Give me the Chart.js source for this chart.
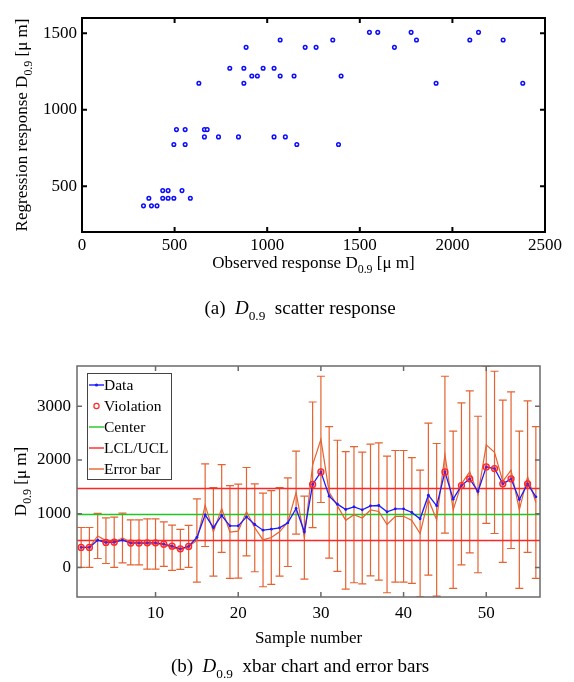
<!DOCTYPE html>
<html>
<head>
<meta charset="utf-8">
<script src="https://cdn.jsdelivr.net/npm/chart.js@4.4.1/dist/chart.umd.min.js"></script>
<style>
  body { margin: 0; background: #fff; width: 574px; height: 682px; position: relative; overflow: hidden; }
  #wrapTop { position: absolute; left: 0; top: 0; width: 574px; height: 330px; }
  #wrapBot { position: absolute; left: 0; top: 330px; width: 574px; height: 352px; }
</style>
</head>
<body>
<div id="wrapTop"><canvas id="scatterChart"></canvas></div>
<div id="wrapBot"><canvas id="xbarChart"></canvas></div>
<script>
// (a) scatter: observed vs regression D0.9
const observed = [332, 361, 375, 405, 436, 436, 465, 465, 496, 496, 510, 540, 557, 557, 585, 631, 661, 661, 676, 737,
  798, 845, 874, 874, 886, 917, 947, 978, 1037, 1037, 1070, 1070, 1098, 1145, 1160, 1205, 1264, 1354, 1385, 1399,
  1552, 1597, 1687, 1777, 1806, 1912, 2094, 2141, 2274, 2380];
const predicted = [371, 421, 371, 371, 471, 421, 471, 421, 421, 772, 870, 471, 870, 772, 421, 1173, 870, 822, 870, 822,
  1271, 822, 1271, 1173, 1408, 1221, 1221, 1271, 1271, 822, 1456, 1221, 822, 1221, 772, 1408, 1408, 1456, 772, 1221,
  1506, 1506, 1408, 1506, 1456, 1173, 1456, 1506, 1456, 1173];
const xTicksTop = [0, 500, 1000, 1500, 2000, 2500];
const yTicksTop = [500, 1000, 1500];

// (b) xbar chart
const sampleNo = [1, 2, 3, 4, 5, 6, 7, 8, 9, 10, 11, 12, 13, 14, 15, 16, 17, 18, 19, 20, 21, 22, 23, 24, 25, 26, 27, 28,
  29, 30, 31, 32, 33, 34, 35, 36, 37, 38, 39, 40, 41, 42, 43, 44, 45, 46, 47, 48, 49, 50, 51, 52, 53, 54, 55, 56];
const xbarVals = [372, 372, 508, 465, 471, 508, 453, 453, 459, 459, 434, 397, 347, 391, 560, 980, 744, 967, 775, 775,
  942, 800, 694, 713, 738, 831, 1097, 663, 1544, 1779, 1327, 1178, 1079, 1128, 1073, 1147, 1153, 1035, 1091, 1091,
  1023, 905, 1345, 1147, 1779, 1271, 1525, 1649, 1414, 1872, 1841, 1556, 1649, 1265, 1556, 1314];
const errMean = [372, 372, 586, 499, 468, 549, 468, 468, 437, 437, 434, 366, 335, 391, 502, 1159, 663, 1097, 660, 676,
  1039, 738, 512, 558, 663, 843, 1392, 555, 1911, 2384, 1398, 1147, 877, 983, 921, 1070, 1042, 800, 952, 952,
  874, 632, 1271, 887, 2099, 1073, 1556, 1779, 1358, 2282, 2142, 1603, 1810, 1073, 1690, 1209];
const errHalf = [372, 372, 419, 425, 468, 462, 419, 419, 468, 468, 415, 422, 372, 391, 775, 769, 825, 818, 865, 874,
  822, 818, 871, 874, 825, 825, 772, 772, 1169, 1175, 1225, 1221, 1280, 1268, 1225, 1225, 1277, 1271, 1225, 1225,
  1172, 1178, 1414, 1420, 1460, 1463, 1507, 1507, 1457, 1463, 1510, 1510, 1457, 1463, 1411, 1414];
const centerLine = 985;
const lcl = 500;
const ucl = 1470;
const xTicksBot = [10, 20, 30, 40, 50];
const yTicksBot = [0, 1000, 2000, 3000];

const FAMILY = '"Liberation Serif", "Times New Roman", serif';
Chart.defaults.font.family = FAMILY;
Chart.defaults.font.size = 17;
Chart.defaults.color = '#000';

const BLUE = '#1a1aff';
const RED = '#ff2626';
const GREEN = '#1ec81e';
const ORANGE = 'rgb(230,98,48)';

// draw text with a subscript part, y is the baseline
function drawRich(ctx, parts, x, y, size, align) {
  const fontOf = p => (p.it ? 'italic ' : '') + (p.sub ? size * 0.7 : size) + 'px ' + FAMILY;
  let total = 0;
  parts.forEach(p => { ctx.font = fontOf(p); p.w = ctx.measureText(p.t).width; total += p.w; });
  let cx = align === 'center' ? x - total / 2 : x;
  ctx.textAlign = 'left';
  ctx.textBaseline = 'alphabetic';
  parts.forEach(p => {
    ctx.font = fontOf(p);
    ctx.fillText(p.t, cx, y + (p.sub ? size * 0.3 : 0));
    cx += p.w;
  });
}

// box around the plot with inward ticks, matlab style
function boxPlugin(color, width, xTicks, yTicks) {
  return {
    id: 'box',
    afterDatasetsDraw(chart) {
      const { ctx, chartArea: a, scales } = chart;
      ctx.save();
      ctx.strokeStyle = color;
      ctx.lineWidth = width;
      ctx.strokeRect(a.left, a.top, a.right - a.left, a.bottom - a.top);
      ctx.beginPath();
      xTicks.forEach(v => {
        const px = scales.x.getPixelForValue(v);
        ctx.moveTo(px, a.bottom); ctx.lineTo(px, a.bottom - 5);
        ctx.moveTo(px, a.top); ctx.lineTo(px, a.top + 5);
      });
      yTicks.forEach(v => {
        const py = scales.y.getPixelForValue(v);
        ctx.moveTo(a.left, py); ctx.lineTo(a.left + 5, py);
        ctx.moveTo(a.right, py); ctx.lineTo(a.right - 5, py);
      });
      ctx.stroke();
      ctx.restore();
    }
  };
}

const fixedTicks = list => scale => { scale.ticks = list.map(v => ({ value: v })); };
const plainLabel = v => String(v);

// ---------- (a) scatter ----------
const titlesTop = {
  id: 'titlesTop',
  afterDraw(chart) {
    const ctx = chart.ctx;
    const a = chart.chartArea;
    ctx.save();
    ctx.fillStyle = '#000';
    drawRich(ctx, [{ t: 'Observed response D' }, { t: '0.9', sub: true }, { t: ' [\u03bc m]' }], (a.left + a.right) / 2, 268, 17, 'center');
    drawRich(ctx, [{ t: '(a)  ' }, { t: 'D', it: true }, { t: '0.9', sub: true }, { t: '  scatter response' }], 300, 314, 19, 'center');
    ctx.translate(27, (a.top + a.bottom) / 2);
    ctx.rotate(-Math.PI / 2);
    drawRich(ctx, [{ t: 'Regression response D' }, { t: '0.9', sub: true }, { t: ' [\u03bc m]' }], 0, 0, 17, 'center');
    ctx.restore();
  }
};

new Chart(document.getElementById('scatterChart'), {
  type: 'scatter',
  data: {
    datasets: [{
      data: observed.map((v, i) => ({ x: v, y: predicted[i] })),
      pointRadius: 1.8,
      borderWidth: 1.5,
      borderColor: '#0a0aff',
      backgroundColor: '#ffffff'
    }]
  },
  options: {
    animation: false,
    responsive: true,
    maintainAspectRatio: false,
    layout: { padding: { top: 18, right: 29, left: 0, bottom: 0 } },
    plugins: { legend: { display: false }, tooltip: { enabled: false } },
    scales: {
      x: {
        type: 'linear', min: 0, max: 2500,
        afterBuildTicks: fixedTicks(xTicksTop),
        grid: { display: false, drawTicks: false },
        border: { display: false },
        ticks: { padding: 3, maxRotation: 0, callback: plainLabel },
        afterFit(s) { s.height = 98; }
      },
      y: {
        type: 'linear', min: 200, max: 1600,
        afterBuildTicks: fixedTicks(yTicksTop),
        grid: { display: false, drawTicks: false },
        border: { display: false },
        ticks: { padding: 5, callback: plainLabel },
        afterFit(s) { s.width = 82; }
      }
    }
  },
  plugins: [boxPlugin('#000', 2, xTicksTop, yTicksTop), titlesTop]
});

// ---------- (b) xbar chart ----------
const errorBars = {
  id: 'errorBars',
  beforeDatasetsDraw(chart) {
    const { ctx, chartArea: a, scales: { x, y } } = chart;
    ctx.save();
    ctx.beginPath();
    ctx.rect(a.left, a.top, a.right - a.left, a.bottom - a.top);
    ctx.clip();
    ctx.strokeStyle = ORANGE;
    ctx.lineWidth = 1.2;
    ctx.beginPath();
    sampleNo.forEach((n, i) => {
      const px = x.getPixelForValue(n);
      const hi = y.getPixelForValue(errMean[i] + errHalf[i]);
      const lo = y.getPixelForValue(errMean[i] - errHalf[i]);
      ctx.moveTo(px, hi); ctx.lineTo(px, lo);
      ctx.moveTo(px - 4, hi); ctx.lineTo(px + 4, hi);
      ctx.moveTo(px - 4, lo); ctx.lineTo(px + 4, lo);
    });
    ctx.stroke();
    ctx.restore();
  }
};

const legendItems = [
  { label: 'Data', color: BLUE, kind: 'lineDot' },
  { label: 'Violation', color: RED, kind: 'circle' },
  { label: 'Center', color: GREEN, kind: 'line' },
  { label: 'LCL/UCL', color: RED, kind: 'line' },
  { label: 'Error bar', color: ORANGE, kind: 'line' }
];

const titlesBot = {
  id: 'titlesBot',
  afterDraw(chart) {
    const ctx = chart.ctx;
    const a = chart.chartArea;
    ctx.save();
    // legend box
    const lx = 87, ly = 43, lw = 84, lh = 106;
    ctx.fillStyle = '#fff';
    ctx.fillRect(lx, ly, lw, lh);
    ctx.strokeStyle = '#444';
    ctx.lineWidth = 1;
    ctx.strokeRect(lx + 0.5, ly + 0.5, lw, lh);
    legendItems.forEach((it, i) => {
      const cy = ly + 12 + i * 21;
      ctx.strokeStyle = it.color;
      ctx.fillStyle = it.color;
      ctx.lineWidth = 1.4;
      if (it.kind !== 'circle') {
        ctx.beginPath(); ctx.moveTo(lx + 2, cy); ctx.lineTo(lx + 17, cy); ctx.stroke();
      }
      if (it.kind === 'lineDot') {
        ctx.beginPath(); ctx.arc(lx + 9.5, cy, 1.6, 0, Math.PI * 2); ctx.fill();
      }
      if (it.kind === 'circle') {
        ctx.lineWidth = 1.2;
        ctx.beginPath(); ctx.arc(lx + 9.5, cy, 2.6, 0, Math.PI * 2); ctx.stroke();
      }
      ctx.fillStyle = '#000';
      ctx.font = '15.5px ' + FAMILY;
      ctx.textAlign = 'left';
      ctx.textBaseline = 'middle';
      ctx.fillText(it.label, lx + 17, cy + 1);
    });
    ctx.fillStyle = '#000';
    ctx.font = '17px ' + FAMILY;
    ctx.textAlign = 'center';
    ctx.textBaseline = 'alphabetic';
    ctx.fillText('Sample number', (a.left + a.right) / 2, 313);
    drawRich(ctx, [{ t: '(b)  ' }, { t: 'D', it: true }, { t: '0.9', sub: true }, { t: '  xbar chart and error bars' }], 300, 342, 19, 'center');
    ctx.translate(26, (a.top + a.bottom) / 2);
    ctx.rotate(-Math.PI / 2);
    drawRich(ctx, [{ t: 'D' }, { t: '0.9', sub: true }, { t: ' [\u03bc m]' }], 0, 0, 17, 'center');
    ctx.restore();
  }
};

const violations = [];
sampleNo.forEach((n, i) => {
  if (xbarVals[i] < lcl || xbarVals[i] > ucl) violations.push({ x: n, y: xbarVals[i] });
});
const hLine = v => [{ x: 0.5, y: v }, { x: 56.5, y: v }];

new Chart(document.getElementById('xbarChart'), {
  type: 'scatter',
  data: {
    datasets: [
      { label: 'Violation', data: violations, showLine: false, pointRadius: 3, borderWidth: 1.3,
        borderColor: RED, backgroundColor: 'rgba(255,40,40,0.35)', order: 0 },
      { label: 'Data', data: sampleNo.map((n, i) => ({ x: n, y: xbarVals[i] })), showLine: true,
        borderColor: BLUE, backgroundColor: BLUE, borderWidth: 1.3, pointRadius: 1.4, pointBorderWidth: 0, order: 1 },
      { label: 'Error bar', data: sampleNo.map((n, i) => ({ x: n, y: errMean[i] })), showLine: true,
        borderColor: ORANGE, borderWidth: 1.2, pointRadius: 0, order: 2 },
      { label: 'Center', data: hLine(centerLine), showLine: true, borderColor: GREEN, borderWidth: 1.5, pointRadius: 0, order: 3 },
      { label: 'UCL', data: hLine(ucl), showLine: true, borderColor: RED, borderWidth: 1.5, pointRadius: 0, order: 4 },
      { label: 'LCL', data: hLine(lcl), showLine: true, borderColor: RED, borderWidth: 1.5, pointRadius: 0, order: 5 }
    ]
  },
  options: {
    animation: false,
    responsive: true,
    maintainAspectRatio: false,
    layout: { padding: { top: 36, right: 34, left: 0, bottom: 0 } },
    plugins: { legend: { display: false }, tooltip: { enabled: false } },
    scales: {
      x: {
        type: 'linear', min: 0.5, max: 56.5,
        afterBuildTicks: fixedTicks(xTicksBot),
        grid: { display: false, drawTicks: false },
        border: { display: false },
        ticks: { padding: 6, maxRotation: 0, callback: plainLabel },
        afterFit(s) { s.height = 85; }
      },
      y: {
        type: 'linear', min: -550, max: 3750,
        afterBuildTicks: fixedTicks(yTicksBot),
        grid: { display: false, drawTicks: false },
        border: { display: false },
        ticks: { padding: 6, callback: plainLabel },
        afterFit(s) { s.width = 77; }
      }
    }
  },
  plugins: [errorBars, boxPlugin('#6a6a6a', 1.5, xTicksBot, yTicksBot), titlesBot]
});
</script>
</body>
</html>
